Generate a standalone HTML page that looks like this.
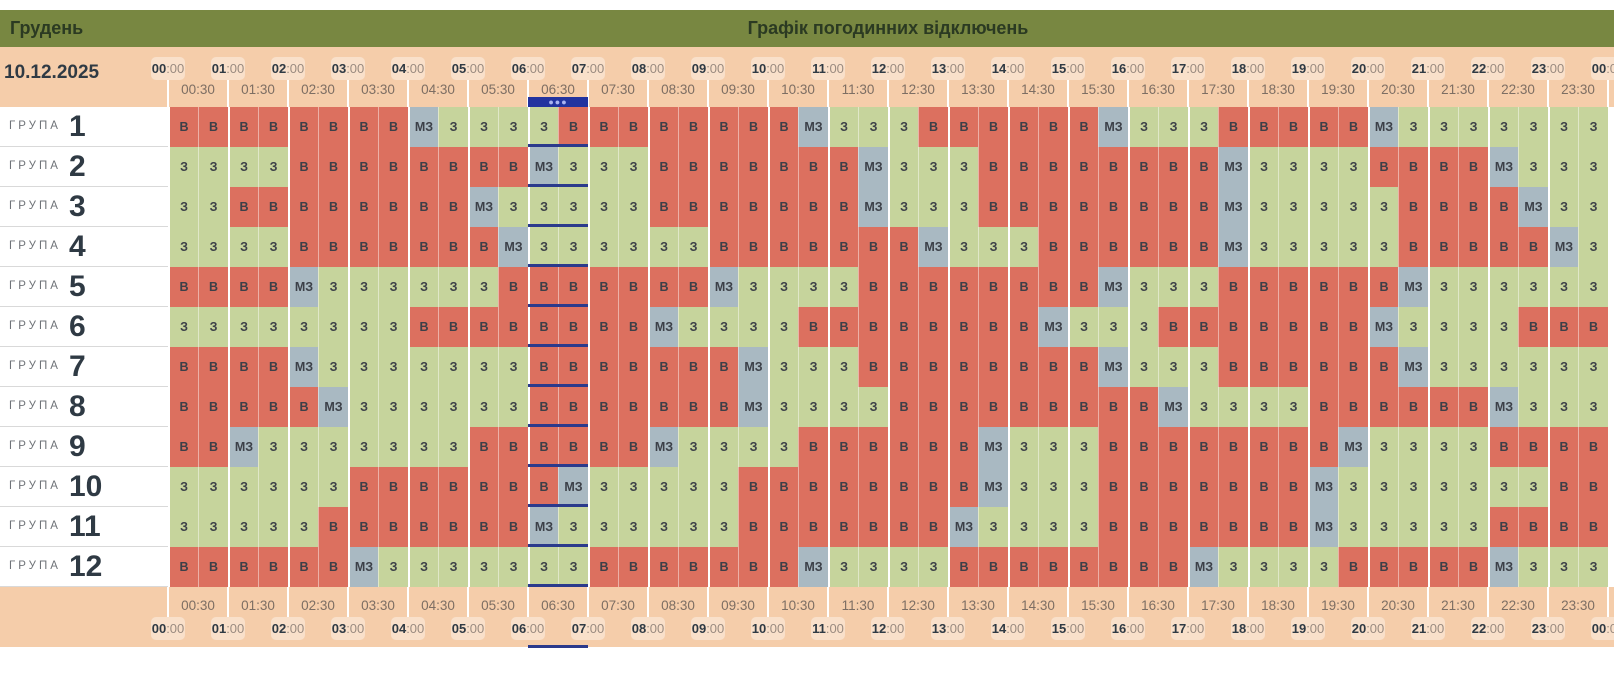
<!DOCTYPE html>
<html><head><meta charset="utf-8">
<style>
*{margin:0;padding:0;box-sizing:border-box}
body{width:1614px;height:673px;position:relative;overflow:hidden;background:#fff;font-family:"Liberation Sans","DejaVu Sans",sans-serif}
.abs{position:absolute}
#green{left:0;top:10px;width:1614px;height:37px;background:#788741}
#peach1{left:0;top:47px;width:1614px;height:60px;background:#f5cdaa}
#peach2{left:0;top:587px;width:1614px;height:60px;background:#f5cdaa}
.t{font-weight:bold;font-size:18px;color:#2b3a22;line-height:37px;top:10px}
#date{left:4px;top:62px;font-size:19px;font-weight:bold;color:#2f3a44}
.grid{left:168px;top:107px;width:1440px}
.row{display:flex;height:40px}
.row i{display:block;width:30px;height:40px;font-style:normal;text-align:center;line-height:40px;font-weight:bold;font-size:12.5px;color:#3c4048;border-left:1px solid rgba(255,255,255,.45)}
.row i:nth-child(odd){border-left:2px solid #fff}
.v{background:#dc705f}.z{background:#c6d49c}.m{background:#a9b9c2}
.lc{left:0;width:168px;height:40px;border-bottom:1px solid #d9d9d9;background:#fff}
.lc span.g{position:absolute;left:9px;top:13px;font-size:11.5px;letter-spacing:3px;color:#6f7378}
.lc span.n{position:absolute;left:69px;top:0;line-height:40px;font-size:30px;font-weight:bold;color:#2f3a44}
.hb{width:34px;height:23px;border-radius:5px;background:rgba(255,255,255,.38);font-size:13px;line-height:23px;text-align:center;color:#9a8b80;white-space:nowrap}
.hb b{color:#2f3a44}
.hl{font-size:13.5px;color:#7d6e63;width:50px;text-align:center}
.vl{width:2px;background:#fff}
.tk{width:1px;background:rgba(255,255,255,.6)}
.bl{left:528px;width:60px;height:3px;background:#2b3a8c}
</style></head><body>
<div class="abs" id="green"></div>
<div class="abs" id="peach1"></div>
<div class="abs" id="peach2"></div>
<div class="abs t" style="left:10px">Грудень</div>
<div class="abs t" style="left:688px;width:400px;text-align:center">Графік погодинних відключень</div>
<div class="abs" id="date">10.12.2025</div>

<!-- hour lines through header/footer -->
<div class="abs vl" style="left:167px;top:80px;height:537px"></div>
<div class="abs vl" style="left:227px;top:80px;height:537px"></div>
<div class="abs vl" style="left:287px;top:80px;height:537px"></div>
<div class="abs vl" style="left:347px;top:80px;height:537px"></div>
<div class="abs vl" style="left:407px;top:80px;height:537px"></div>
<div class="abs vl" style="left:467px;top:80px;height:537px"></div>
<div class="abs vl" style="left:527px;top:80px;height:537px"></div>
<div class="abs vl" style="left:587px;top:80px;height:537px"></div>
<div class="abs vl" style="left:647px;top:80px;height:537px"></div>
<div class="abs vl" style="left:707px;top:80px;height:537px"></div>
<div class="abs vl" style="left:767px;top:80px;height:537px"></div>
<div class="abs vl" style="left:827px;top:80px;height:537px"></div>
<div class="abs vl" style="left:887px;top:80px;height:537px"></div>
<div class="abs vl" style="left:947px;top:80px;height:537px"></div>
<div class="abs vl" style="left:1007px;top:80px;height:537px"></div>
<div class="abs vl" style="left:1067px;top:80px;height:537px"></div>
<div class="abs vl" style="left:1127px;top:80px;height:537px"></div>
<div class="abs vl" style="left:1187px;top:80px;height:537px"></div>
<div class="abs vl" style="left:1247px;top:80px;height:537px"></div>
<div class="abs vl" style="left:1307px;top:80px;height:537px"></div>
<div class="abs vl" style="left:1367px;top:80px;height:537px"></div>
<div class="abs vl" style="left:1427px;top:80px;height:537px"></div>
<div class="abs vl" style="left:1487px;top:80px;height:537px"></div>
<div class="abs vl" style="left:1547px;top:80px;height:537px"></div>
<div class="abs vl" style="left:1607px;top:80px;height:537px"></div>

<!-- hour boxes top -->
<div class="abs hb" style="left:151px;top:57px"><b>00</b>:00</div>
<div class="abs hb" style="left:211px;top:57px"><b>01</b>:00</div>
<div class="abs hb" style="left:271px;top:57px"><b>02</b>:00</div>
<div class="abs hb" style="left:331px;top:57px"><b>03</b>:00</div>
<div class="abs hb" style="left:391px;top:57px"><b>04</b>:00</div>
<div class="abs hb" style="left:451px;top:57px"><b>05</b>:00</div>
<div class="abs hb" style="left:511px;top:57px"><b>06</b>:00</div>
<div class="abs hb" style="left:571px;top:57px"><b>07</b>:00</div>
<div class="abs hb" style="left:631px;top:57px"><b>08</b>:00</div>
<div class="abs hb" style="left:691px;top:57px"><b>09</b>:00</div>
<div class="abs hb" style="left:751px;top:57px"><b>10</b>:00</div>
<div class="abs hb" style="left:811px;top:57px"><b>11</b>:00</div>
<div class="abs hb" style="left:871px;top:57px"><b>12</b>:00</div>
<div class="abs hb" style="left:931px;top:57px"><b>13</b>:00</div>
<div class="abs hb" style="left:991px;top:57px"><b>14</b>:00</div>
<div class="abs hb" style="left:1051px;top:57px"><b>15</b>:00</div>
<div class="abs hb" style="left:1111px;top:57px"><b>16</b>:00</div>
<div class="abs hb" style="left:1171px;top:57px"><b>17</b>:00</div>
<div class="abs hb" style="left:1231px;top:57px"><b>18</b>:00</div>
<div class="abs hb" style="left:1291px;top:57px"><b>19</b>:00</div>
<div class="abs hb" style="left:1351px;top:57px"><b>20</b>:00</div>
<div class="abs hb" style="left:1411px;top:57px"><b>21</b>:00</div>
<div class="abs hb" style="left:1471px;top:57px"><b>22</b>:00</div>
<div class="abs hb" style="left:1531px;top:57px"><b>23</b>:00</div>
<div class="abs hb" style="left:1591px;top:57px"><b>00</b>:00</div>

<!-- hour boxes bottom -->
<div class="abs hb" style="left:151px;top:617px"><b>00</b>:00</div>
<div class="abs hb" style="left:211px;top:617px"><b>01</b>:00</div>
<div class="abs hb" style="left:271px;top:617px"><b>02</b>:00</div>
<div class="abs hb" style="left:331px;top:617px"><b>03</b>:00</div>
<div class="abs hb" style="left:391px;top:617px"><b>04</b>:00</div>
<div class="abs hb" style="left:451px;top:617px"><b>05</b>:00</div>
<div class="abs hb" style="left:511px;top:617px"><b>06</b>:00</div>
<div class="abs hb" style="left:571px;top:617px"><b>07</b>:00</div>
<div class="abs hb" style="left:631px;top:617px"><b>08</b>:00</div>
<div class="abs hb" style="left:691px;top:617px"><b>09</b>:00</div>
<div class="abs hb" style="left:751px;top:617px"><b>10</b>:00</div>
<div class="abs hb" style="left:811px;top:617px"><b>11</b>:00</div>
<div class="abs hb" style="left:871px;top:617px"><b>12</b>:00</div>
<div class="abs hb" style="left:931px;top:617px"><b>13</b>:00</div>
<div class="abs hb" style="left:991px;top:617px"><b>14</b>:00</div>
<div class="abs hb" style="left:1051px;top:617px"><b>15</b>:00</div>
<div class="abs hb" style="left:1111px;top:617px"><b>16</b>:00</div>
<div class="abs hb" style="left:1171px;top:617px"><b>17</b>:00</div>
<div class="abs hb" style="left:1231px;top:617px"><b>18</b>:00</div>
<div class="abs hb" style="left:1291px;top:617px"><b>19</b>:00</div>
<div class="abs hb" style="left:1351px;top:617px"><b>20</b>:00</div>
<div class="abs hb" style="left:1411px;top:617px"><b>21</b>:00</div>
<div class="abs hb" style="left:1471px;top:617px"><b>22</b>:00</div>
<div class="abs hb" style="left:1531px;top:617px"><b>23</b>:00</div>
<div class="abs hb" style="left:1591px;top:617px"><b>00</b>:00</div>

<!-- half labels top -->
<div class="abs hl" style="left:173px;top:82px">00:30</div>
<div class="abs hl" style="left:233px;top:82px">01:30</div>
<div class="abs hl" style="left:293px;top:82px">02:30</div>
<div class="abs hl" style="left:353px;top:82px">03:30</div>
<div class="abs hl" style="left:413px;top:82px">04:30</div>
<div class="abs hl" style="left:473px;top:82px">05:30</div>
<div class="abs hl" style="left:533px;top:82px">06:30</div>
<div class="abs hl" style="left:593px;top:82px">07:30</div>
<div class="abs hl" style="left:653px;top:82px">08:30</div>
<div class="abs hl" style="left:713px;top:82px">09:30</div>
<div class="abs hl" style="left:773px;top:82px">10:30</div>
<div class="abs hl" style="left:833px;top:82px">11:30</div>
<div class="abs hl" style="left:893px;top:82px">12:30</div>
<div class="abs hl" style="left:953px;top:82px">13:30</div>
<div class="abs hl" style="left:1013px;top:82px">14:30</div>
<div class="abs hl" style="left:1073px;top:82px">15:30</div>
<div class="abs hl" style="left:1133px;top:82px">16:30</div>
<div class="abs hl" style="left:1193px;top:82px">17:30</div>
<div class="abs hl" style="left:1253px;top:82px">18:30</div>
<div class="abs hl" style="left:1313px;top:82px">19:30</div>
<div class="abs hl" style="left:1373px;top:82px">20:30</div>
<div class="abs hl" style="left:1433px;top:82px">21:30</div>
<div class="abs hl" style="left:1493px;top:82px">22:30</div>
<div class="abs hl" style="left:1553px;top:82px">23:30</div>

<!-- half labels bottom -->
<div class="abs hl" style="left:173px;top:598px">00:30</div>
<div class="abs hl" style="left:233px;top:598px">01:30</div>
<div class="abs hl" style="left:293px;top:598px">02:30</div>
<div class="abs hl" style="left:353px;top:598px">03:30</div>
<div class="abs hl" style="left:413px;top:598px">04:30</div>
<div class="abs hl" style="left:473px;top:598px">05:30</div>
<div class="abs hl" style="left:533px;top:598px">06:30</div>
<div class="abs hl" style="left:593px;top:598px">07:30</div>
<div class="abs hl" style="left:653px;top:598px">08:30</div>
<div class="abs hl" style="left:713px;top:598px">09:30</div>
<div class="abs hl" style="left:773px;top:598px">10:30</div>
<div class="abs hl" style="left:833px;top:598px">11:30</div>
<div class="abs hl" style="left:893px;top:598px">12:30</div>
<div class="abs hl" style="left:953px;top:598px">13:30</div>
<div class="abs hl" style="left:1013px;top:598px">14:30</div>
<div class="abs hl" style="left:1073px;top:598px">15:30</div>
<div class="abs hl" style="left:1133px;top:598px">16:30</div>
<div class="abs hl" style="left:1193px;top:598px">17:30</div>
<div class="abs hl" style="left:1253px;top:598px">18:30</div>
<div class="abs hl" style="left:1313px;top:598px">19:30</div>
<div class="abs hl" style="left:1373px;top:598px">20:30</div>
<div class="abs hl" style="left:1433px;top:598px">21:30</div>
<div class="abs hl" style="left:1493px;top:598px">22:30</div>
<div class="abs hl" style="left:1553px;top:598px">23:30</div>

<!-- left column -->
<div class="abs lc" style="top:107px"><span class="g">ГРУПА</span><span class="n">1</span></div>
<div class="abs lc" style="top:147px"><span class="g">ГРУПА</span><span class="n">2</span></div>
<div class="abs lc" style="top:187px"><span class="g">ГРУПА</span><span class="n">3</span></div>
<div class="abs lc" style="top:227px"><span class="g">ГРУПА</span><span class="n">4</span></div>
<div class="abs lc" style="top:267px"><span class="g">ГРУПА</span><span class="n">5</span></div>
<div class="abs lc" style="top:307px"><span class="g">ГРУПА</span><span class="n">6</span></div>
<div class="abs lc" style="top:347px"><span class="g">ГРУПА</span><span class="n">7</span></div>
<div class="abs lc" style="top:387px"><span class="g">ГРУПА</span><span class="n">8</span></div>
<div class="abs lc" style="top:427px"><span class="g">ГРУПА</span><span class="n">9</span></div>
<div class="abs lc" style="top:467px"><span class="g">ГРУПА</span><span class="n">10</span></div>
<div class="abs lc" style="top:507px"><span class="g">ГРУПА</span><span class="n">11</span></div>
<div class="abs lc" style="top:547px"><span class="g">ГРУПА</span><span class="n">12</span></div>

<div class="abs grid">
<div class="row"><i class="v">В</i><i class="v">В</i><i class="v">В</i><i class="v">В</i><i class="v">В</i><i class="v">В</i><i class="v">В</i><i class="v">В</i><i class="m">МЗ</i><i class="z">З</i><i class="z">З</i><i class="z">З</i><i class="z">З</i><i class="v">В</i><i class="v">В</i><i class="v">В</i><i class="v">В</i><i class="v">В</i><i class="v">В</i><i class="v">В</i><i class="v">В</i><i class="m">МЗ</i><i class="z">З</i><i class="z">З</i><i class="z">З</i><i class="v">В</i><i class="v">В</i><i class="v">В</i><i class="v">В</i><i class="v">В</i><i class="v">В</i><i class="m">МЗ</i><i class="z">З</i><i class="z">З</i><i class="z">З</i><i class="v">В</i><i class="v">В</i><i class="v">В</i><i class="v">В</i><i class="v">В</i><i class="m">МЗ</i><i class="z">З</i><i class="z">З</i><i class="z">З</i><i class="z">З</i><i class="z">З</i><i class="z">З</i><i class="z">З</i></div>
<div class="row"><i class="z">З</i><i class="z">З</i><i class="z">З</i><i class="z">З</i><i class="v">В</i><i class="v">В</i><i class="v">В</i><i class="v">В</i><i class="v">В</i><i class="v">В</i><i class="v">В</i><i class="v">В</i><i class="m">МЗ</i><i class="z">З</i><i class="z">З</i><i class="z">З</i><i class="v">В</i><i class="v">В</i><i class="v">В</i><i class="v">В</i><i class="v">В</i><i class="v">В</i><i class="v">В</i><i class="m">МЗ</i><i class="z">З</i><i class="z">З</i><i class="z">З</i><i class="v">В</i><i class="v">В</i><i class="v">В</i><i class="v">В</i><i class="v">В</i><i class="v">В</i><i class="v">В</i><i class="v">В</i><i class="m">МЗ</i><i class="z">З</i><i class="z">З</i><i class="z">З</i><i class="z">З</i><i class="v">В</i><i class="v">В</i><i class="v">В</i><i class="v">В</i><i class="m">МЗ</i><i class="z">З</i><i class="z">З</i><i class="z">З</i></div>
<div class="row"><i class="z">З</i><i class="z">З</i><i class="v">В</i><i class="v">В</i><i class="v">В</i><i class="v">В</i><i class="v">В</i><i class="v">В</i><i class="v">В</i><i class="v">В</i><i class="m">МЗ</i><i class="z">З</i><i class="z">З</i><i class="z">З</i><i class="z">З</i><i class="z">З</i><i class="v">В</i><i class="v">В</i><i class="v">В</i><i class="v">В</i><i class="v">В</i><i class="v">В</i><i class="v">В</i><i class="m">МЗ</i><i class="z">З</i><i class="z">З</i><i class="z">З</i><i class="v">В</i><i class="v">В</i><i class="v">В</i><i class="v">В</i><i class="v">В</i><i class="v">В</i><i class="v">В</i><i class="v">В</i><i class="m">МЗ</i><i class="z">З</i><i class="z">З</i><i class="z">З</i><i class="z">З</i><i class="z">З</i><i class="v">В</i><i class="v">В</i><i class="v">В</i><i class="v">В</i><i class="m">МЗ</i><i class="z">З</i><i class="z">З</i></div>
<div class="row"><i class="z">З</i><i class="z">З</i><i class="z">З</i><i class="z">З</i><i class="v">В</i><i class="v">В</i><i class="v">В</i><i class="v">В</i><i class="v">В</i><i class="v">В</i><i class="v">В</i><i class="m">МЗ</i><i class="z">З</i><i class="z">З</i><i class="z">З</i><i class="z">З</i><i class="z">З</i><i class="z">З</i><i class="v">В</i><i class="v">В</i><i class="v">В</i><i class="v">В</i><i class="v">В</i><i class="v">В</i><i class="v">В</i><i class="m">МЗ</i><i class="z">З</i><i class="z">З</i><i class="z">З</i><i class="v">В</i><i class="v">В</i><i class="v">В</i><i class="v">В</i><i class="v">В</i><i class="v">В</i><i class="m">МЗ</i><i class="z">З</i><i class="z">З</i><i class="z">З</i><i class="z">З</i><i class="z">З</i><i class="v">В</i><i class="v">В</i><i class="v">В</i><i class="v">В</i><i class="v">В</i><i class="m">МЗ</i><i class="z">З</i></div>
<div class="row"><i class="v">В</i><i class="v">В</i><i class="v">В</i><i class="v">В</i><i class="m">МЗ</i><i class="z">З</i><i class="z">З</i><i class="z">З</i><i class="z">З</i><i class="z">З</i><i class="z">З</i><i class="v">В</i><i class="v">В</i><i class="v">В</i><i class="v">В</i><i class="v">В</i><i class="v">В</i><i class="v">В</i><i class="m">МЗ</i><i class="z">З</i><i class="z">З</i><i class="z">З</i><i class="z">З</i><i class="v">В</i><i class="v">В</i><i class="v">В</i><i class="v">В</i><i class="v">В</i><i class="v">В</i><i class="v">В</i><i class="v">В</i><i class="m">МЗ</i><i class="z">З</i><i class="z">З</i><i class="z">З</i><i class="v">В</i><i class="v">В</i><i class="v">В</i><i class="v">В</i><i class="v">В</i><i class="v">В</i><i class="m">МЗ</i><i class="z">З</i><i class="z">З</i><i class="z">З</i><i class="z">З</i><i class="z">З</i><i class="z">З</i></div>
<div class="row"><i class="z">З</i><i class="z">З</i><i class="z">З</i><i class="z">З</i><i class="z">З</i><i class="z">З</i><i class="z">З</i><i class="z">З</i><i class="v">В</i><i class="v">В</i><i class="v">В</i><i class="v">В</i><i class="v">В</i><i class="v">В</i><i class="v">В</i><i class="v">В</i><i class="m">МЗ</i><i class="z">З</i><i class="z">З</i><i class="z">З</i><i class="z">З</i><i class="v">В</i><i class="v">В</i><i class="v">В</i><i class="v">В</i><i class="v">В</i><i class="v">В</i><i class="v">В</i><i class="v">В</i><i class="m">МЗ</i><i class="z">З</i><i class="z">З</i><i class="z">З</i><i class="v">В</i><i class="v">В</i><i class="v">В</i><i class="v">В</i><i class="v">В</i><i class="v">В</i><i class="v">В</i><i class="m">МЗ</i><i class="z">З</i><i class="z">З</i><i class="z">З</i><i class="z">З</i><i class="v">В</i><i class="v">В</i><i class="v">В</i></div>
<div class="row"><i class="v">В</i><i class="v">В</i><i class="v">В</i><i class="v">В</i><i class="m">МЗ</i><i class="z">З</i><i class="z">З</i><i class="z">З</i><i class="z">З</i><i class="z">З</i><i class="z">З</i><i class="z">З</i><i class="v">В</i><i class="v">В</i><i class="v">В</i><i class="v">В</i><i class="v">В</i><i class="v">В</i><i class="v">В</i><i class="m">МЗ</i><i class="z">З</i><i class="z">З</i><i class="z">З</i><i class="v">В</i><i class="v">В</i><i class="v">В</i><i class="v">В</i><i class="v">В</i><i class="v">В</i><i class="v">В</i><i class="v">В</i><i class="m">МЗ</i><i class="z">З</i><i class="z">З</i><i class="z">З</i><i class="v">В</i><i class="v">В</i><i class="v">В</i><i class="v">В</i><i class="v">В</i><i class="v">В</i><i class="m">МЗ</i><i class="z">З</i><i class="z">З</i><i class="z">З</i><i class="z">З</i><i class="z">З</i><i class="z">З</i></div>
<div class="row"><i class="v">В</i><i class="v">В</i><i class="v">В</i><i class="v">В</i><i class="v">В</i><i class="m">МЗ</i><i class="z">З</i><i class="z">З</i><i class="z">З</i><i class="z">З</i><i class="z">З</i><i class="z">З</i><i class="v">В</i><i class="v">В</i><i class="v">В</i><i class="v">В</i><i class="v">В</i><i class="v">В</i><i class="v">В</i><i class="m">МЗ</i><i class="z">З</i><i class="z">З</i><i class="z">З</i><i class="z">З</i><i class="v">В</i><i class="v">В</i><i class="v">В</i><i class="v">В</i><i class="v">В</i><i class="v">В</i><i class="v">В</i><i class="v">В</i><i class="v">В</i><i class="m">МЗ</i><i class="z">З</i><i class="z">З</i><i class="z">З</i><i class="z">З</i><i class="v">В</i><i class="v">В</i><i class="v">В</i><i class="v">В</i><i class="v">В</i><i class="v">В</i><i class="m">МЗ</i><i class="z">З</i><i class="z">З</i><i class="z">З</i></div>
<div class="row"><i class="v">В</i><i class="v">В</i><i class="m">МЗ</i><i class="z">З</i><i class="z">З</i><i class="z">З</i><i class="z">З</i><i class="z">З</i><i class="z">З</i><i class="z">З</i><i class="v">В</i><i class="v">В</i><i class="v">В</i><i class="v">В</i><i class="v">В</i><i class="v">В</i><i class="m">МЗ</i><i class="z">З</i><i class="z">З</i><i class="z">З</i><i class="z">З</i><i class="v">В</i><i class="v">В</i><i class="v">В</i><i class="v">В</i><i class="v">В</i><i class="v">В</i><i class="m">МЗ</i><i class="z">З</i><i class="z">З</i><i class="z">З</i><i class="v">В</i><i class="v">В</i><i class="v">В</i><i class="v">В</i><i class="v">В</i><i class="v">В</i><i class="v">В</i><i class="v">В</i><i class="m">МЗ</i><i class="z">З</i><i class="z">З</i><i class="z">З</i><i class="z">З</i><i class="v">В</i><i class="v">В</i><i class="v">В</i><i class="v">В</i></div>
<div class="row"><i class="z">З</i><i class="z">З</i><i class="z">З</i><i class="z">З</i><i class="z">З</i><i class="z">З</i><i class="v">В</i><i class="v">В</i><i class="v">В</i><i class="v">В</i><i class="v">В</i><i class="v">В</i><i class="v">В</i><i class="m">МЗ</i><i class="z">З</i><i class="z">З</i><i class="z">З</i><i class="z">З</i><i class="z">З</i><i class="v">В</i><i class="v">В</i><i class="v">В</i><i class="v">В</i><i class="v">В</i><i class="v">В</i><i class="v">В</i><i class="v">В</i><i class="m">МЗ</i><i class="z">З</i><i class="z">З</i><i class="z">З</i><i class="v">В</i><i class="v">В</i><i class="v">В</i><i class="v">В</i><i class="v">В</i><i class="v">В</i><i class="v">В</i><i class="m">МЗ</i><i class="z">З</i><i class="z">З</i><i class="z">З</i><i class="z">З</i><i class="z">З</i><i class="z">З</i><i class="z">З</i><i class="v">В</i><i class="v">В</i></div>
<div class="row"><i class="z">З</i><i class="z">З</i><i class="z">З</i><i class="z">З</i><i class="z">З</i><i class="v">В</i><i class="v">В</i><i class="v">В</i><i class="v">В</i><i class="v">В</i><i class="v">В</i><i class="v">В</i><i class="m">МЗ</i><i class="z">З</i><i class="z">З</i><i class="z">З</i><i class="z">З</i><i class="z">З</i><i class="z">З</i><i class="v">В</i><i class="v">В</i><i class="v">В</i><i class="v">В</i><i class="v">В</i><i class="v">В</i><i class="v">В</i><i class="m">МЗ</i><i class="z">З</i><i class="z">З</i><i class="z">З</i><i class="z">З</i><i class="v">В</i><i class="v">В</i><i class="v">В</i><i class="v">В</i><i class="v">В</i><i class="v">В</i><i class="v">В</i><i class="m">МЗ</i><i class="z">З</i><i class="z">З</i><i class="z">З</i><i class="z">З</i><i class="z">З</i><i class="v">В</i><i class="v">В</i><i class="v">В</i><i class="v">В</i></div>
<div class="row"><i class="v">В</i><i class="v">В</i><i class="v">В</i><i class="v">В</i><i class="v">В</i><i class="v">В</i><i class="m">МЗ</i><i class="z">З</i><i class="z">З</i><i class="z">З</i><i class="z">З</i><i class="z">З</i><i class="z">З</i><i class="z">З</i><i class="v">В</i><i class="v">В</i><i class="v">В</i><i class="v">В</i><i class="v">В</i><i class="v">В</i><i class="v">В</i><i class="m">МЗ</i><i class="z">З</i><i class="z">З</i><i class="z">З</i><i class="z">З</i><i class="v">В</i><i class="v">В</i><i class="v">В</i><i class="v">В</i><i class="v">В</i><i class="v">В</i><i class="v">В</i><i class="v">В</i><i class="m">МЗ</i><i class="z">З</i><i class="z">З</i><i class="z">З</i><i class="z">З</i><i class="v">В</i><i class="v">В</i><i class="v">В</i><i class="v">В</i><i class="v">В</i><i class="m">МЗ</i><i class="z">З</i><i class="z">З</i><i class="z">З</i></div>
</div>

<!-- current-hour markers -->
<div class="abs" style="left:528px;top:97px;width:60px;height:10px;background:#22339f;color:#a9b3f2;font-size:9px;line-height:10px;text-align:center;letter-spacing:1px">●●●</div>
<div class="abs bl" style="top:144px"></div>
<div class="abs bl" style="top:184px"></div>
<div class="abs bl" style="top:224px"></div>
<div class="abs bl" style="top:264px"></div>
<div class="abs bl" style="top:304px"></div>
<div class="abs bl" style="top:344px"></div>
<div class="abs bl" style="top:384px"></div>
<div class="abs bl" style="top:424px"></div>
<div class="abs bl" style="top:464px"></div>
<div class="abs bl" style="top:504px"></div>
<div class="abs bl" style="top:544px"></div>
<div class="abs bl" style="top:584px"></div>
<div class="abs bl" style="top:645px"></div>
</body></html>
